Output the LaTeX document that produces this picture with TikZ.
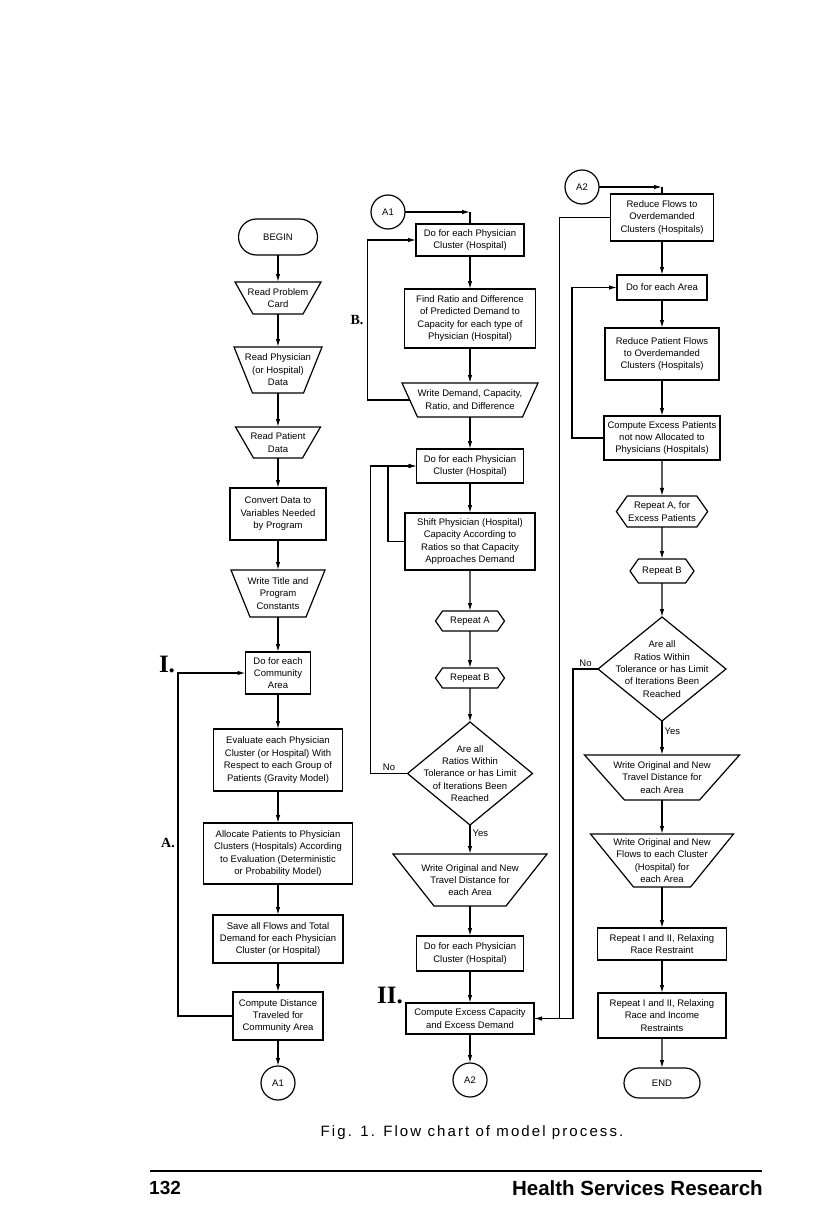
\documentclass[tikz,border=0pt]{standalone}
\usepackage{fontspec}
\setmainfont{Liberation Sans}
\newfontfamily\markserif{Liberation Serif}
\usepackage{tikz}
\usetikzlibrary{shapes.geometric, shapes.symbols, shapes.misc, arrows.meta, positioning, calc}
\newcommand{\boxfont}{\fontsize{9.5}{12.4}\selectfont}
\tikzstyle{startstop} = [rounded rectangle, draw=black, line width=1.2pt, minimum width=80pt, minimum height=34pt,
    font=\boxfont, inner sep=1pt, outer sep=0pt]
\tikzstyle{process} = [rectangle, draw=black, line width=1.2pt, align=center, font=\boxfont, inner sep=1pt, outer sep=0pt]
\tikzstyle{io} = [rectangle, align=center, font=\boxfont, inner sep=0pt, outer sep=0pt]
\tikzstyle{repeatbox} = [signal, signal to=west and east, signal pointer angle=110, draw=black, line width=1.2pt,
    align=center, font=\boxfont, inner sep=1pt, outer sep=0pt]
\tikzstyle{decision} = [diamond, draw=black, line width=1.2pt, inner sep=0pt, outer sep=0pt]
\tikzstyle{dtext} = [align=center, font=\boxfont, inner sep=0pt]
\tikzstyle{conn} = [circle, draw=black, line width=1.2pt, minimum size=34pt, inner sep=0pt, outer sep=0pt, font=\boxfont]
\tikzstyle{wire} = [line width=1.2pt]
\tikzstyle{arrow} = [wire, -{Latex[length=8pt, width=4.5pt]}]
\tikzstyle{lbl} = [font=\boxfont, inner sep=2pt]
\tikzstyle{bigmark} = [font=\markserif\bfseries\fontsize{25}{25}\selectfont, inner sep=0pt]
\tikzstyle{smallmark} = [font=\markserif\bfseries\fontsize{14}{14}\selectfont, inner sep=0pt]
\newcommand{\iotrap}[2]{\draw[wire] (#1.north west) -- (#1.north east) -- ([xshift=-#2]#1.south east)
    -- ([xshift=#2]#1.south west) -- cycle;}

\begin{document}
\begin{tikzpicture}[x=1pt, y=1pt]
\useasboundingbox (0,0) rectangle (816,-1217);
\node (begin) [startstop, minimum width=81pt, minimum height=36pt] at (278,-237) {BEGIN};
\node (readcard) [io, below=27pt of begin, minimum width=86pt, minimum height=32pt] {Read Problem\\Card};
\node (readphys) [io, below=33pt of readcard, minimum width=88pt, minimum height=46pt] {Read Physician\\(or Hospital)\\Data};
\node (readpat) [io, below=34pt of readphys, minimum width=85pt, minimum height=31pt] {Read Patient\\Data};
\node (convert) [process, below=30pt of readpat, minimum width=96pt, minimum height=52pt] {Convert Data to\\Variables Needed\\by Program};
\node (writetitle) [io, below=30pt of convert, minimum width=94pt, minimum height=47pt] {Write Title and\\Program\\Constants};
\node (doarea1) [process, below=35pt of writetitle, minimum width=65pt, minimum height=42pt] {Do for each\\Community\\Area};
\node (evaluate) [process, below=35pt of doarea1, minimum width=129pt, minimum height=62pt] {Evaluate each Physician\\Cluster (or Hospital) With\\Respect to each Group of\\Patients (Gravity Model)};
\node (allocate) [process, below=32pt of evaluate, minimum width=149pt, minimum height=61pt] {Allocate Patients to Physician\\Clusters (Hospitals) According\\to Evaluation (Deterministic\\or Probability Model)};
\node (saveflows) [process, below=31pt of allocate, minimum width=130pt, minimum height=48pt] {Save all Flows and Total\\Demand for each Physician\\Cluster (or Hospital)};
\node (compdist) [process, below=29pt of saveflows, minimum width=90pt, minimum height=48pt] {Compute Distance\\Traveled for\\Community Area};
\node (aoneout) [conn, below=26pt of compdist] {A1};

\node (aonein) [conn] at (388,-212) {A1};
\node (dophys1) [process, minimum width=108pt, minimum height=32pt] at (470,-240) {Do for each Physician\\Cluster (Hospital)};
\node (findratio) [process, below=33pt of dophys1, minimum width=131pt, minimum height=59pt] {Find Ratio and Difference\\of Predicted Demand to\\Capacity for each type of\\Physician (Hospital)};
\node (writedem) [io, below=35pt of findratio, minimum width=136pt, minimum height=34pt] {Write Demand, Capacity,\\Ratio, and Difference};
\node (dophys2) [process, below=32pt of writedem, minimum width=107pt, minimum height=34pt] {Do for each Physician\\Cluster (Hospital)};
\node (shiftcap) [process, below=30pt of dophys2, minimum width=130pt, minimum height=57pt] {Shift Physician (Hospital)\\Capacity According to\\Ratios so that Capacity\\Approaches Demand};
\node (repeata1) [repeatbox, below=41pt of shiftcap, minimum width=69pt, minimum height=20pt] {Repeat A};
\node (repeatb1) [repeatbox, below=37pt of repeata1, minimum width=69pt, minimum height=20pt] {Repeat B};
\node (ratios1) [decision, below=34pt of repeatb1, minimum width=125pt, minimum height=103pt] {};
\node (ratios1txt) [dtext] at (ratios1) {Are all\\Ratios Within\\Tolerance or has Limit\\of Iterations Been\\Reached};
\node (writetrav1) [io, below=29pt of ratios1, minimum width=154pt, minimum height=52pt] {Write Original and New\\Travel Distance for\\each Area};
\node (dophys3) [process, below=30pt of writetrav1, minimum width=107pt, minimum height=35pt] {Do for each Physician\\Cluster (Hospital)};
\node (excesscap) [process, below=32pt of dophys3, minimum width=128pt, minimum height=31pt] {Compute Excess Capacity\\and Excess Demand};
\node (atwoout) [conn, below=29pt of excesscap] {A2};

\node (atwoin) [conn] at (582,-187) {A2};
\node (reduceflows) [process, minimum width=103pt, minimum height=47pt] at (662,-217.5) {Reduce Flows to\\Overdemanded\\Clusters (Hospitals)};
\node (doarea2) [process, below=34pt of reduceflows, minimum width=90pt, minimum height=25pt] {Do for each Area};
\node (reducepat) [process, below=28pt of doarea2, minimum width=114pt, minimum height=52pt] {Reduce Patient Flows\\to Overdemanded\\Clusters (Hospitals)};
\node (excesspat) [process, below=36pt of reducepat, minimum width=116pt, minimum height=44pt] {Compute Excess Patients\\not now Allocated to\\Physicians (Hospitals)};
\node (repeata2) [repeatbox, below=36pt of excesspat, minimum width=88pt, minimum height=31pt] {Repeat A, for\\Excess Patients};
\node (repeatb2) [repeatbox, below=32pt of repeata2, minimum width=64pt, minimum height=24pt] {Repeat B};
\node (ratios2) [decision, below=34pt of repeatb2, minimum width=128pt, minimum height=104pt] {};
\node (ratios2txt) [dtext] at (ratios2) {Are all\\Ratios Within\\Tolerance or has Limit\\of Iterations Been\\Reached};
\node (writetrav2) [io, below=34pt of ratios2, minimum width=155pt, minimum height=45pt] {Write Original and New\\Travel Distance for\\each Area};
\node (writeflows) [io, below=34pt of writetrav2, minimum width=143pt, minimum height=53pt] {Write Original and New\\Flows to each Cluster\\(Hospital) for\\each Area};
\node (relaxrace) [process, below=41pt of writeflows, minimum width=129pt, minimum height=32pt] {Repeat I and II, Relaxing\\Race Restraint};
\node (relaxinc) [process, below=33pt of relaxrace, minimum width=128pt, minimum height=45pt] {Repeat I and II, Relaxing\\Race and Income\\Restraints};
\node (finish) [startstop, below=30pt of relaxinc, minimum width=78pt, minimum height=30pt] {END};

\iotrap{readcard}{18pt}
\iotrap{readphys}{18.5pt}
\iotrap{readpat}{18pt}
\iotrap{writetitle}{19pt}
\iotrap{writedem}{15.5pt}
\iotrap{writetrav1}{41pt}
\iotrap{writetrav2}{40pt}
\iotrap{writeflows}{43pt}

\node (marki) [bigmark] at (167,-664) {I.};
\node (markii) [bigmark] at (390,-995) {II.};
\node (marka) [smallmark] at (168,-843) {A.};
\node (markb) [smallmark] at (357,-320) {B.};

\draw[arrow] (begin) -- (readcard);
\draw[arrow] (readcard) -- (readphys);
\draw[arrow] (readphys) -- (readpat);
\draw[arrow] (readpat) -- (convert);
\draw[arrow] (convert) -- (writetitle);
\draw[arrow] (writetitle) -- (doarea1);
\draw[arrow] (doarea1) -- (evaluate);
\draw[arrow] (evaluate) -- (allocate);
\draw[arrow] (allocate) -- (saveflows);
\draw[arrow] (saveflows) -- (compdist);
\draw[arrow] (compdist) -- (aoneout);
\draw[arrow] (compdist.west) -- ++(-55,0) |- (doarea1.west);

\draw[arrow] (aonein) -- (aonein -| dophys1);
\draw[wire] (aonein -| dophys1) -- (dophys1);
\draw[arrow] (dophys1) -- (findratio);
\draw[arrow] (findratio) -- (writedem);
\draw[arrow] ([xshift=7.75pt]writedem.west) -- ++(-42,0) |- (dophys1.west);
\draw[arrow] (writedem) -- (dophys2);
\draw[arrow] (dophys2) -- (shiftcap);
\draw[arrow] (shiftcap.west) -- ++(-17,0) |- (dophys2.west);
\draw[arrow] (shiftcap) -- (repeata1);
\draw[arrow] (repeata1) -- (repeatb1);
\draw[arrow] (repeatb1) -- (ratios1);
\draw[arrow] (ratios1.west) -- node[lbl, above]{No} ++(-37,0) |- (dophys2.west);
\draw[arrow] (ratios1) -- node[lbl, right, pos=0.3]{Yes} (writetrav1);
\draw[arrow] (writetrav1) -- (dophys3);
\draw[arrow] (dophys3) -- (excesscap);
\draw[arrow] (excesscap) -- (atwoout);

\draw[arrow] (atwoin) -- (atwoin -| reduceflows);
\draw[wire] (atwoin -| reduceflows) -- (reduceflows);
\draw[arrow] (reduceflows) -- (doarea2);
\draw[arrow] (doarea2) -- (reducepat);
\draw[arrow] (reducepat) -- (excesspat);
\draw[arrow] (excesspat.west) -- ++(-32,0) |- (doarea2.west);
\draw[arrow] (excesspat) -- (repeata2);
\draw[arrow] (repeata2) -- (repeatb2);
\draw[arrow] (repeatb2) -- (ratios2);
\draw[arrow] (reduceflows.west) -- ++(-51,0) |- (excesscap.east);
\draw[wire] (ratios2.west) -- node[lbl, above]{No} ++(-25,0) |- (excesscap.east);
\draw[arrow] (ratios2) -- node[lbl, right, pos=0.3]{Yes} (writetrav2);
\draw[arrow] (writetrav2) -- (writeflows);
\draw[arrow] (writeflows) -- (relaxrace);
\draw[arrow] (relaxrace) -- (relaxinc);
\draw[arrow] (relaxinc) -- (finish);

\node (caption) [font=\fontsize{15}{17}\selectfont\addfontfeatures{LetterSpace=14}] at (472,-1133) {Fig. 1. Flow chart of model process.};
\coordinate (ruleleft) at (150,-1171);
\coordinate (ruleright) at (762,-1171);
\draw[line width=2.5pt] (ruleleft) -- (ruleright);
\node (pagenum) [anchor=west, inner sep=0pt, font=\bfseries\fontsize{19}{19}\selectfont] at (149,-1188) {132};
\node (journal) [anchor=east, inner sep=0pt, font=\bfseries\fontsize{20.5}{20.5}\selectfont] at (763,-1188) {Health Services Research};
\end{tikzpicture}
\end{document}
